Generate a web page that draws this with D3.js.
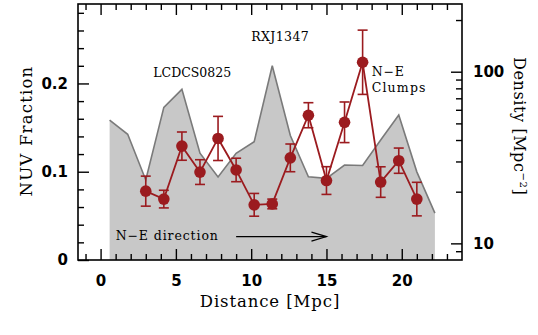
<!DOCTYPE html>
<html>
<head>
<meta charset="utf-8">
<script src="https://cdn.jsdelivr.net/npm/d3@7"></script>
<style>
  html, body { margin: 0; padding: 0; background: #fff; }
  svg { display: block; }
</style>
</head>
<body>
<div id="chart"></div>
<script>
// ---- data ----
const densityDistance = [0.6, 1.8, 3.0, 4.2, 5.4, 6.6, 7.8, 9.0, 10.2, 11.4, 12.6, 13.8, 15.0, 16.2, 17.4, 18.6, 19.8, 21.0, 22.2];
const densityValues   = [52.3, 43.2, 23.4, 62.0, 78.9, 33.5, 24.4, 33.5, 39.1, 108.4, 42.5, 24.4, 23.9, 28.6, 28.4, 40.0, 56.0, 26.1, 15.0];

const nuvDistance = [3.0, 4.2, 5.4, 6.6, 7.8, 9.0, 10.2, 11.4, 12.6, 13.8, 15.0, 16.2, 17.4, 18.6, 19.8, 21.0];
const nuvFraction = [0.078, 0.069, 0.129, 0.0996, 0.1377, 0.102, 0.0625, 0.0635, 0.1157, 0.164, 0.090, 0.156, 0.224, 0.0883, 0.1125, 0.069];
const nuvError    = [0.017, 0.010, 0.016, 0.014, 0.025, 0.0133, 0.0129, 0.0055, 0.0157, 0.0142, 0.0157, 0.023, 0.0364, 0.0173, 0.0143, 0.019];

const xMajorTicks = [0, 5, 10, 15, 20];
const xMinorTicks = [-1, 1, 2, 3, 4, 6, 7, 8, 9, 11, 12, 13, 14, 16, 17, 18, 19, 21, 22, 23];
const yLeftMajorTicks = [0, 0.1, 0.2];
const yLeftMinorTicks = [0.02, 0.04, 0.06, 0.08, 0.12, 0.14, 0.16, 0.18, 0.22, 0.24, 0.26, 0.28];
const yRightMajorTicks = [10, 100];
const yRightMinorTicks = [9, 20, 30, 40, 50, 60, 70, 80, 90, 200];

// ---- layout ----
const W = 538, H = 335;
const L = 78, R = 462, T = 4, B = 260;
const red = "#9b1b1f";

const svg = d3.select("#chart").append("svg").attr("width", W).attr("height", H);

const x = d3.scaleLinear().domain([-1.5, 24]).range([L, R]);
const yL = d3.scaleLinear().domain([0, 0.29]).range([B, T]);
const yR = d3.scaleLog().domain([8, 248]).range([B, T]);

// density shaded area
const area = d3.area()
  .x((d, i) => x(densityDistance[i]))
  .y0(B)
  .y1(d => yR(d));
svg.append("path").datum(densityValues)
  .attr("d", area).attr("fill", "#c8c8c8").attr("stroke", "none");
const dline = d3.line().x((d, i) => x(densityDistance[i])).y(d => yR(d));
svg.append("path").datum(densityValues)
  .attr("d", dline).attr("fill", "none").attr("stroke", "#7a7a7a").attr("stroke-width", 1.6)
  .attr("stroke-linejoin", "miter");

// axes
const tickFont = "'DejaVu Sans', sans-serif";
function styleAxis(g) {
  g.select(".domain").remove();
  g.selectAll(".tick line").attr("stroke", "#000").attr("stroke-width", 1.4);
  g.selectAll(".tick text").attr("font-family", tickFont).attr("font-size", 15)
    .attr("font-weight", "bold").attr("fill", "#000");
}
const MAJ = 11, MIN = 6;

svg.append("g").attr("transform", `translate(0,${B})`)
  .call(d3.axisBottom(x).tickValues(xMajorTicks).tickSize(-MAJ).tickPadding(15).tickFormat(d3.format("d")))
  .call(styleAxis);
svg.append("g").attr("transform", `translate(0,${B})`)
  .call(d3.axisBottom(x).tickValues(xMinorTicks).tickSize(-MIN).tickFormat(""))
  .call(styleAxis);
svg.append("g").attr("transform", `translate(0,${T})`)
  .call(d3.axisTop(x).tickValues(xMajorTicks).tickSize(-MAJ).tickFormat(""))
  .call(styleAxis);
svg.append("g").attr("transform", `translate(0,${T})`)
  .call(d3.axisTop(x).tickValues(xMinorTicks).tickSize(-MIN).tickFormat(""))
  .call(styleAxis);

svg.append("g").attr("transform", `translate(${L},0)`)
  .call(d3.axisLeft(yL).tickValues(yLeftMajorTicks).tickSize(-MAJ).tickPadding(10).tickFormat(d => d === 0 ? "0" : d3.format(".1f")(d)))
  .call(styleAxis);
svg.append("g").attr("transform", `translate(${L},0)`)
  .call(d3.axisLeft(yL).tickValues(yLeftMinorTicks).tickSize(-MIN).tickFormat(""))
  .call(styleAxis);

svg.append("g").attr("transform", `translate(${R},0)`)
  .call(d3.axisRight(yR).tickValues(yRightMajorTicks).tickSize(-MAJ).tickPadding(11).tickFormat(d3.format("d")))
  .call(styleAxis);
svg.append("g").attr("transform", `translate(${R},0)`)
  .call(d3.axisRight(yR).tickValues(yRightMinorTicks).tickSize(-MIN).tickFormat(""))
  .call(styleAxis);

// frame
svg.append("rect").attr("x", L).attr("y", T).attr("width", R - L).attr("height", B - T)
  .attr("fill", "none").attr("stroke", "#000").attr("stroke-width", 1.6);

// NUV fraction line, error bars, markers
const nline = d3.line().x((d, i) => x(nuvDistance[i])).y(d => yL(d));
svg.append("path").datum(nuvFraction).attr("d", nline)
  .attr("fill", "none").attr("stroke", red).attr("stroke-width", 1.8);

const eb = svg.append("g").attr("stroke", red).attr("stroke-width", 1.6);
nuvFraction.forEach((v, i) => {
  const cx = x(nuvDistance[i]);
  const y1 = yL(v + nuvError[i]), y2 = yL(v - nuvError[i]);
  eb.append("line").attr("x1", cx).attr("x2", cx).attr("y1", y1).attr("y2", y2);
  eb.append("line").attr("x1", cx - 5).attr("x2", cx + 5).attr("y1", y1).attr("y2", y1);
  eb.append("line").attr("x1", cx - 5).attr("x2", cx + 5).attr("y1", y2).attr("y2", y2);
});
svg.append("g").selectAll("circle").data(nuvFraction).join("circle")
  .attr("cx", (d, i) => x(nuvDistance[i])).attr("cy", d => yL(d)).attr("r", 5.8)
  .attr("fill", red);

// annotations
const serif = "'DejaVu Serif', serif";
function label(txt, px, py, size, ls) {
  return svg.append("text").attr("x", px).attr("y", py).text(txt)
    .attr("font-family", serif).attr("font-size", size).attr("letter-spacing", ls)
    .attr("fill", "#000");
}
label("RXJ1347", x(10.0), 41, 12.5, 0.4);
label("LCDCS0825", x(3.5), 77, 12.5, 0);
label("N\u2212E", x(18.0), 76, 12.5, 0.8);
label("Clumps", x(18.0), 92, 12.5, 1.2);
label("N\u2212E direction", x(1.0), 240, 12.5, 0.9);

// arrow
const ay = yL(0.0265);
const ag = svg.append("g").attr("stroke", "#000").attr("stroke-width", 1.2).attr("fill", "none");
ag.append("line").attr("x1", x(9)).attr("x2", x(15)).attr("y1", ay).attr("y2", ay);
ag.append("path").attr("d", `M${x(15) - 15},${ay - 4.5} L${x(15)},${ay} L${x(15) - 15},${ay + 4.5}`);

// axis titles
svg.append("text").attr("transform", `translate(32,131) rotate(-90)`)
  .attr("text-anchor", "middle").text("NUV Fraction")
  .attr("font-family", serif).attr("font-size", 16.5).attr("letter-spacing", 1.2).attr("fill", "#000");
svg.append("text").attr("x", 270).attr("y", 307)
  .attr("text-anchor", "middle").text("Distance [Mpc]")
  .attr("font-family", serif).attr("font-size", 16.5).attr("letter-spacing", 0.9).attr("fill", "#000");
const dt = svg.append("text").attr("transform", `translate(514,57) rotate(90)`)
  .attr("text-anchor", "start")
  .attr("font-family", serif).attr("font-size", 16).attr("letter-spacing", 0.6).attr("fill", "#000");
dt.append("tspan").text("Density [Mpc");
dt.append("tspan").text("\u22122").attr("font-size", 10).attr("dy", -6);
dt.append("tspan").text("]").attr("dy", 6);
</script>
</body>
</html>
